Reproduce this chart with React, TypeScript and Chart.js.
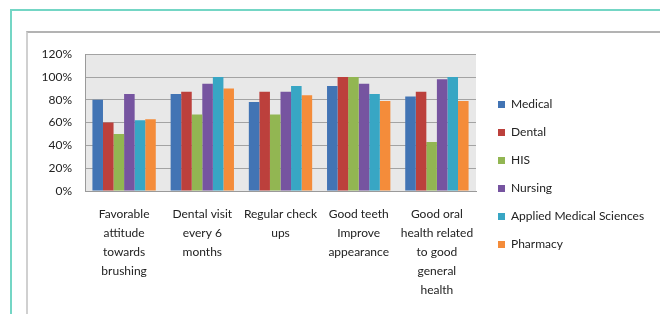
import React, { useEffect, useRef } from "react";
import { Chart, registerables } from "chart.js";

Chart.register(...registerables);

const categories: string[][] = [
  ["Favorable", "attitude", "towards", "brushing"],
  ["Dental visit", "every 6", "months"],
  ["Regular check", "ups"],
  ["Good teeth", "Improve", "appearance"],
  ["Good oral", "health related", "to good", "general", "health"],
];

const seriesNames = [
  "Medical",
  "Dental",
  "HIS",
  "Nursing",
  "Applied Medical Sciences",
  "Pharmacy",
];

const medical = [80, 85, 78, 92, 83];
const dental = [60, 87, 87, 100, 87];
const his = [50, 67, 67, 100, 43];
const nursing = [85, 94, 87, 94, 98];
const appliedMedicalSciences = [62, 100, 92, 85, 100];
const pharmacy = [63, 90, 84, 79, 79];

const yMin = 0;
const yMax = 120;
const yStep = 20;

const seriesColors = ["#4274b4", "#bc403c", "#92b652", "#7654a0", "#38a6c4", "#f48c3a"];

const FONT = "Lato, 'Open Sans', sans-serif";

export default function App() {
  const canvasRef = useRef<HTMLCanvasElement | null>(null);

  useEffect(() => {
    const canvas = canvasRef.current;
    if (!canvas) return;
    const ctx = canvas.getContext("2d");
    if (!ctx) return;

    const values = [medical, dental, his, nursing, appliedMedicalSciences, pharmacy];
    const legendPad = 16;

    const plotBg = {
      id: "plotBg",
      beforeDraw(chart: any) {
        const { ctx: c, chartArea: a } = chart;
        c.save();
        c.fillStyle = "#e8e8e8";
        c.fillRect(a.left, a.top, a.right - a.left, a.bottom - a.top);
        c.restore();
      },
    };
    const legendFix = {
      id: "legendFix",
      afterInit(chart: any) {
        const lg = chart.legend;
        if (lg && !lg.__patched) {
          const orig = lg.fit.bind(lg);
          lg.fit = () => {
            orig();
            lg.width = 184;
          };
          lg.__patched = true;
        }
      },
      afterUpdate(chart: any) {
        const lg = chart.legend;
        if (lg) {
          lg.left += 6;
          lg.right += 6;
          lg.top -= 7;
          lg.bottom -= 7;
        }
      },
    };

    const chart = new Chart(ctx, {
      type: "bar",
      data: {
        labels: categories,
        datasets: seriesNames.map((name, i) => ({
          label: name,
          data: values[i],
          backgroundColor: seriesColors[i],
          borderWidth: 0,
          categoryPercentage: 0.81,
          barPercentage: 1,
        })),
      },
      options: {
        animation: false,
        responsive: false,
        devicePixelRatio: 1,
        layout: { padding: { left: 0, top: 15, right: 0, bottom: 0 } },
        plugins: {
          tooltip: { enabled: false },
          title: { display: false },
          legend: {
            position: "right",
            align: "center",
            labels: {
              boxWidth: 7,
              boxHeight: 7,
              padding: legendPad,
              color: "#222",
              font: { family: FONT, size: 12 },
            },
          },
        },
        scales: {
          x: {
            grid: { display: false, drawTicks: false },
            border: { display: true, color: "#9a9a9a" },
            ticks: {
              color: "#222",
              font: { family: FONT, size: 12, lineHeight: 1.58 },
              padding: 14,
              autoSkip: false,
              maxRotation: 0,
              minRotation: 0,
            },
            afterFit: (axis: any) => {
              axis.height = 123;
            },
          },
          y: {
            min: yMin,
            max: yMax,
            grid: { color: "#a3a3a3", lineWidth: 1, drawTicks: false },
            border: { display: true, color: "#9a9a9a" },
            ticks: {
              stepSize: yStep,
              color: "#222",
              padding: 13,
              font: { family: FONT, size: 12 },
              callback: (v: any) => `${v}%`,
            },
            afterFit: (axis: any) => {
              axis.width = 55;
            },
          },
        },
      },
      plugins: [plotBg, legendFix],
    });

    return () => chart.destroy();
  }, []);

  return (
    <div
      style={{
        position: "fixed",
        left: 0,
        top: 0,
        width: 660,
        height: 314,
        overflow: "hidden",
        background: "#ffffff",
      }}
    >
      <div
        style={{
          position: "absolute",
          left: 10,
          top: 9,
          width: 700,
          height: 400,
          borderTop: "2px solid #74d6c5",
          borderLeft: "2px solid #74d6c5",
        }}
      />
      <div
        style={{
          position: "absolute",
          left: 26,
          top: 31,
          width: 700,
          height: 400,
          borderTop: "2px solid #b3b3b3",
          borderLeft: "2px solid #d0d0d0",
        }}
      />
      <canvas
        ref={canvasRef}
        width={630}
        height={280}
        style={{ position: "absolute", left: 30, top: 34, width: 630, height: 280 }}
      />
    </div>
  );
}
